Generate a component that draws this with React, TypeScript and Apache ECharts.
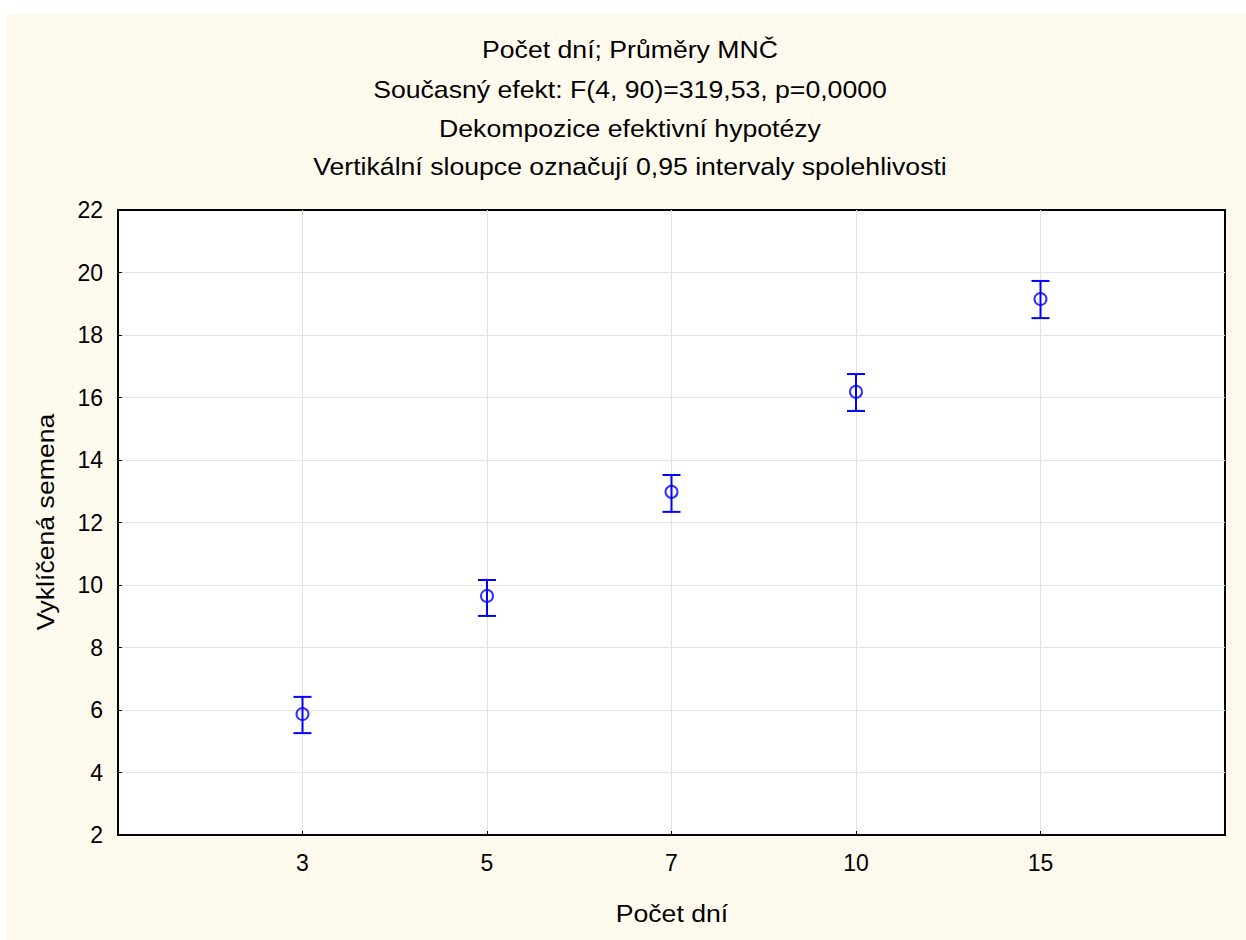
import React, { useEffect, useRef } from "react";
import * as echarts from "echarts";

const dayLabels = ["3", "5", "7", "10", "15"];
const means = [5.87, 9.65, 12.98, 16.18, 19.15];
const lowerCI = [5.26, 9.01, 12.34, 15.57, 18.54];
const upperCI = [6.42, 10.16, 13.52, 16.75, 19.73];
const titleLines = [
  "Počet dní; Průměry MNČ",
  "Současný efekt: F(4, 90)=319,53, p=0,0000",
  "Dekompozice efektivní hypotézy",
  "Vertikální sloupce označují 0,95 intervaly spolehlivosti",
];
const xAxisName = "Počet dní";
const yAxisName = "Vyklíčená semena";

const FONT = "'Liberation Sans', Arial, sans-serif";
const BLUE = "#0000ff";
const STRETCH = 1.11;

export default function App() {
  const ref = useRef<HTMLDivElement>(null);
  useEffect(() => {
    if (!ref.current) return;
    const chart = echarts.init(ref.current, undefined, { renderer: "svg" });
    const titleY = [49, 89, 128, 166];
    const textStyle = (t: string) => ({
      text: t,
      fill: "#000",
      font: `24px ${FONT}`,
      textAlign: "center",
      textVerticalAlign: "middle",
    });
    const option: any = {
      animation: false,
      backgroundColor: "#ffffff",
      graphic: [
        {
          type: "rect",
          z: -10,
          silent: true,
          shape: { x: 7, y: 14, width: 1246 - 7, height: 940 - 14 },
          style: { fill: "#fffaee" },
        },
        ...titleLines.map((t, i) => ({
          type: "text",
          x: 630,
          y: titleY[i],
          scaleX: STRETCH,
          style: textStyle(t),
        })),
        {
          type: "text",
          x: 672,
          y: 913,
          scaleX: STRETCH,
          style: textStyle(xAxisName),
        },
        {
          type: "text",
          x: 45,
          y: 522,
          rotation: Math.PI / 2,
          scaleX: STRETCH,
          style: textStyle(yAxisName),
        },
      ],
      grid: {
        left: 118,
        top: 210,
        right: 21,
        bottom: 105,
        show: true,
        backgroundColor: "#ffffff",
        borderColor: "#000",
        borderWidth: 2,
      },
      xAxis: {
        type: "value",
        min: 0,
        max: 6,
        interval: 1,
        axisLine: { show: true, lineStyle: { color: "#000", width: 2 } },
        axisTick: { show: true, inside: true, length: 4, lineStyle: { color: "#000", width: 1 } },
        axisLabel: {
          margin: 16,
          fontFamily: FONT,
          fontSize: 23,
          color: "#000",
          formatter: (v: number) => (v >= 1 && v <= 5 ? dayLabels[v - 1] : ""),
        },
        splitLine: {
          show: true,
          showMinLine: false,
          showMaxLine: false,
          lineStyle: { color: "#e3e3e3", width: 1 },
        },
      },
      yAxis: {
        type: "value",
        min: 2,
        max: 22,
        interval: 2,
        axisLine: { show: true, lineStyle: { color: "#000", width: 2 } },
        axisTick: { show: true, inside: true, length: 4, lineStyle: { color: "#000", width: 1 } },
        axisLabel: { margin: 15, fontFamily: FONT, fontSize: 23, color: "#000" },
        splitLine: {
          show: true,
          showMinLine: false,
          showMaxLine: false,
          lineStyle: { color: "#e3e3e3", width: 1 },
        },
      },
      series: [
        {
          type: "custom",
          z: 3,
          data: dayLabels.map((_, i) => [i + 1, lowerCI[i], upperCI[i]]),
          renderItem: (params: any, api: any) => {
            const x = api.value(0);
            const lo = api.coord([x, api.value(1)]);
            const hi = api.coord([x, api.value(2)]);
            const hw = 9;
            const style = { stroke: BLUE, lineWidth: 2 };
            return {
              type: "group",
              children: [
                { type: "line", shape: { x1: lo[0], y1: lo[1], x2: hi[0], y2: hi[1] }, style },
                { type: "line", shape: { x1: lo[0] - hw, y1: lo[1], x2: lo[0] + hw, y2: lo[1] }, style },
                { type: "line", shape: { x1: hi[0] - hw, y1: hi[1], x2: hi[0] + hw, y2: hi[1] }, style },
              ],
            };
          },
        },
        {
          type: "scatter",
          z: 4,
          symbol: "circle",
          symbolSize: 12,
          data: dayLabels.map((_, i) => [i + 1, means[i]]),
          itemStyle: { color: "rgba(0,0,0,0)", borderColor: BLUE, borderWidth: 2 },
        },
      ],
    };
    chart.setOption(option);
    return () => chart.dispose();
  }, []);
  return (
    <div
      ref={ref}
      style={{ position: "fixed", left: 0, top: 0, width: 1246, height: 940 }}
    />
  );
}
